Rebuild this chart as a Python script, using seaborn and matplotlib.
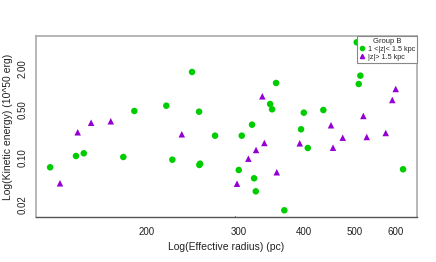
import matplotlib
matplotlib.use("Agg")
import matplotlib.pyplot as plt
import seaborn as sns
import pandas as pd
import numpy as np

# Group B, 1 < |z| < 1.5 kpc (green dots)
green_r = [130.9, 146.7, 151.8, 180.7, 189.7, 218.4, 224.3, 244.6, 252.3, 252.6,
           253.4, 270.7, 505.3, 354.2, 513.4, 509.8, 345.0, 348.0, 436.2, 400.2,
           318.6, 395.4, 304.5, 407.3, 300.5, 321.5, 323.9, 367.3, 619.7]
green_e = [0.0714, 0.1045, 0.1144, 0.101, 0.475, 0.568, 0.0922, 1.766, 0.464, 0.0772,
           0.0806, 0.207, 4.80, 1.220, 1.560, 1.179, 0.601, 0.503, 0.491, 0.449,
           0.2997, 0.2567, 0.207, 0.1368, 0.0652, 0.0493, 0.0318, 0.0168, 0.0668]

# Group B, |z| > 1.5 kpc (purple triangles)
purple_r = [136.7, 147.8, 156.8, 171.0, 233.8, 333.4, 600.0, 591.0, 520.3, 451.2,
            528.1, 475.1, 574.2, 336.4, 393.1, 324.3, 455.2, 313.5, 355.3, 298.2, 296.0]
purple_e = [0.0417, 0.232, 0.320, 0.336, 0.217, 0.779, 0.997, 0.688, 0.402, 0.294,
            0.198, 0.1934, 0.2266, 0.1619, 0.1602, 0.1278, 0.1381, 0.0954, 0.0604, 0.0411, 0.0125]

groups = ["1 <|z|< 1.5 kpc", "|z|> 1.5 kpc"]
x_ticks = [200, 300, 400, 500, 600]
y_ticks = [0.02, 0.05, 0.1, 0.2, 0.5, 1, 2, 5]
y_labels = ["0.02", "", "0.10", "", "0.50", "", "2.00", ""]

df = pd.DataFrame({
    "r": green_r + purple_r,
    "e": green_e + purple_e,
    "g": [groups[0]] * len(green_r) + [groups[1]] * len(purple_r),
})

sns.set_style("white")
plt.rcParams["font.family"] = ["Liberation Sans", "DejaVu Sans"]

fig = plt.figure(figsize=(4.36, 2.62), dpi=100)
ax = fig.add_axes([36/436, 1-217/262, (417-36)/436, (217-36)/262])

sns.scatterplot(data=df, x="r", y="e", hue="g", style="g",
                palette={groups[0]: "#00CD00", groups[1]: "#9400D3"},
                markers={groups[0]: "o", groups[1]: "^"},
                s=22, linewidth=0, ax=ax, legend=False)

ax.set_xscale("log")
ax.set_yscale("log")
ax.set_xlim(123.0, 659)
ax.set_ylim(0.0134, 5.93)
ax.minorticks_off()
ax.set_xticks(x_ticks)
ax.set_xticklabels([str(v) for v in x_ticks])
ax.set_yticks(y_ticks)
ax.set_yticklabels(y_labels, rotation=90, va="center")
ax.tick_params(axis="both", direction="out", length=4, width=0.8,
               color="#888888", labelsize=7, labelcolor="#222222", pad=2)
ax.tick_params(axis="x", pad=3)

for side in ["top", "right", "left"]:
    ax.spines[side].set_color("#aaaaaa")
    ax.spines[side].set_linewidth(1.2)
ax.spines["bottom"].set_color("#555555")
ax.spines["bottom"].set_linewidth(1.0)

ax.set_xlabel("Log(Effective radius) (pc)", fontsize=7.5, color="#222222", labelpad=4)
ax.set_ylabel("Log(Kinetic energy) (10^50 erg)", fontsize=7.5, color="#222222", labelpad=3)

from matplotlib.lines import Line2D
handles = [Line2D([], [], marker="o", color="#00CD00", linestyle="", markersize=3),
           Line2D([], [], marker="^", color="#9400D3", linestyle="", markersize=3)]
leg = ax.legend(handles, groups, title="Group B", loc="upper right",
                fontsize=5.2, title_fontsize=5.5, frameon=True, fancybox=False,
                edgecolor="#888888", borderaxespad=0, borderpad=0.3,
                handlelength=0.8, handletextpad=0.4, labelspacing=0.1)
leg.get_frame().set_linewidth(0.8)
leg.get_frame().set_alpha(1)

fig.savefig("out.png", dpi=100)
